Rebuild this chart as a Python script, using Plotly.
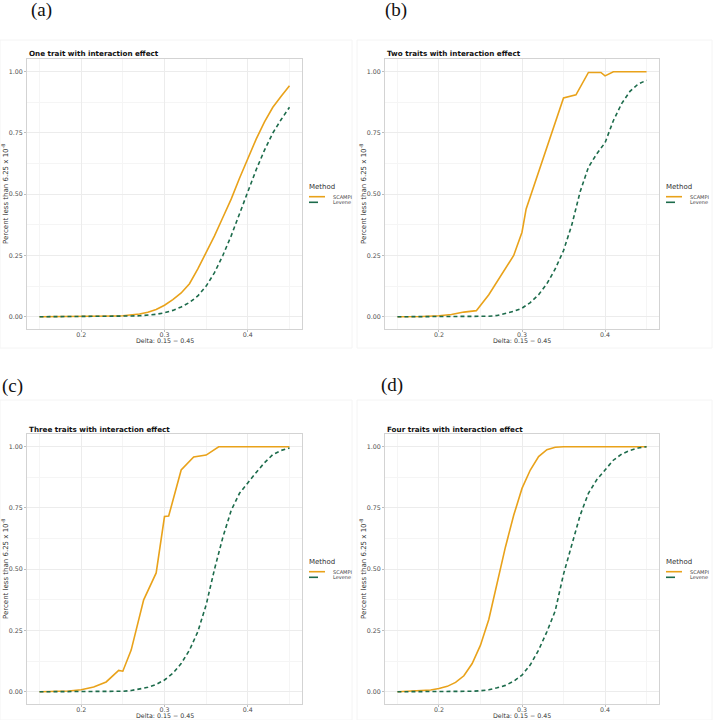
import plotly.graph_objects as go

# ---------------- data ----------------
delta_grid = [0.15, 0.16, 0.17, 0.18, 0.19, 0.20, 0.21, 0.22, 0.23, 0.24,
              0.25, 0.26, 0.27, 0.28, 0.29, 0.30, 0.31, 0.32, 0.33, 0.34,
              0.35, 0.36, 0.37, 0.38, 0.39, 0.40, 0.41, 0.42, 0.43, 0.44, 0.45]

a_scampi_x = delta_grid
a_scampi_y = [0, 0, 0, 0, 0, 0, 0.001, 0.001, 0.002, 0.003,
              0.004, 0.007, 0.011, 0.018, 0.03, 0.047, 0.07, 0.097, 0.135, 0.195,
              0.26, 0.33, 0.405, 0.48, 0.565, 0.645, 0.725, 0.795, 0.855, 0.9, 0.943]
a_levene_x = delta_grid
a_levene_y = [0, 0, 0, 0, 0, 0, 0, 0, 0, 0.001,
              0.002, 0.003, 0.004, 0.006, 0.01, 0.016, 0.026, 0.04, 0.058, 0.085,
              0.125, 0.18, 0.25, 0.33, 0.42, 0.51, 0.60, 0.68, 0.75, 0.805, 0.855]

b_scampi_x = [0.15, 0.165, 0.18, 0.2, 0.215, 0.23, 0.245, 0.26, 0.275, 0.29,
              0.3, 0.305, 0.35, 0.365, 0.38, 0.395, 0.4, 0.41, 0.45]
b_scampi_y = [0, 0, 0.001, 0.004, 0.009, 0.019, 0.025, 0.09, 0.17, 0.25,
              0.345, 0.44, 0.893, 0.906, 0.997, 0.997, 0.983, 1.0, 1.0]
b_levene_x = delta_grid
b_levene_y = [0, 0, 0, 0, 0, 0, 0, 0, 0, 0,
              0.001, 0.002, 0.005, 0.012, 0.022, 0.035, 0.058, 0.09, 0.135, 0.195,
              0.27, 0.375, 0.51, 0.61, 0.665, 0.71, 0.80, 0.87, 0.92, 0.95, 0.965]

c_scampi_x = [0.15, 0.17, 0.185, 0.2, 0.215, 0.23, 0.245, 0.25, 0.26, 0.275,
              0.29, 0.3, 0.305, 0.32, 0.335, 0.35, 0.365, 0.45]
c_scampi_y = [0, 0.001, 0.003, 0.008, 0.019, 0.04, 0.087, 0.084, 0.17, 0.375,
              0.485, 0.715, 0.717, 0.905, 0.958, 0.966, 1.0, 1.0]
c_levene_x = delta_grid
c_levene_y = [0, 0, 0, 0, 0, 0, 0, 0, 0, 0.001,
              0.002, 0.005, 0.01, 0.018, 0.03, 0.048, 0.075, 0.115, 0.17, 0.245,
              0.355, 0.5, 0.63, 0.74, 0.81, 0.855, 0.895, 0.935, 0.968, 0.985, 0.995]

d_scampi_x = delta_grid
d_scampi_y = [0, 0.001, 0.002, 0.004, 0.007, 0.013, 0.022, 0.038, 0.065, 0.115,
              0.19, 0.295, 0.44, 0.59, 0.72, 0.83, 0.905, 0.96, 0.988, 0.998,
              1.0, 1.0, 1.0, 1.0, 1.0, 1.0, 1.0, 1.0, 1.0, 1.0, 1.0]
d_levene_x = delta_grid
d_levene_y = [0, 0, 0, 0, 0, 0, 0, 0.001, 0.001, 0.002,
              0.004, 0.008, 0.016, 0.026, 0.043, 0.068, 0.11, 0.17, 0.245, 0.33,
              0.48, 0.6, 0.72, 0.81, 0.865, 0.905, 0.945, 0.97, 0.985, 0.995, 1.0]

panel_letters = ["(a)", "(b)", "(c)", "(d)"]
panel_titles = ["One trait with interaction effect",
                "Two traits with interaction effect",
                "Three traits with interaction effect",
                "Four traits with interaction effect"]
method_names = ["SCAMPI", "Levene"]
x_tick_vals = [0.2, 0.3, 0.4]
x_tick_text = ["0.2", "0.3", "0.4"]
y_tick_vals = [0.0, 0.25, 0.5, 0.75, 1.0]
y_tick_text = ["0.00", "0.25", "0.50", "0.75", "1.00"]
x_title = "Delta: 0.15 \u2212 0.45"
y_title = "Percent less than 6.25 x 10<sup>-8</sup>"

series = [
    (a_scampi_x, a_scampi_y, a_levene_x, a_levene_y),
    (b_scampi_x, b_scampi_y, b_levene_x, b_levene_y),
    (c_scampi_x, c_scampi_y, c_levene_x, c_levene_y),
    (d_scampi_x, d_scampi_y, d_levene_x, d_levene_y),
]

# ---------------- layout ----------------
W, H = 714, 720
ORANGE = "#E9A21A"
GREEN = "#1C6B4B"
FONT = "DejaVu Sans"

# plot-area boxes in pixels: (left, right, top, bottom)
boxes = [(27, 302, 59, 329), (385, 659, 59, 329),
         (27, 302, 434, 704), (385, 659, 434, 704)]
letter_pos = [(41, 10.5), (396, 10.5), (12, 386), (392, 385)]
xtitle_y = [340, 340, 715.5, 715.5]
outer_boxes = [(0, 352, 40, 348), (357, 712, 40, 348),
               (0, 352, 400, 720), (357, 712, 400, 720)]


def px(x):
    return x / W


def py(y):
    return 1 - y / H


fig = go.Figure()
annotations = []
shapes = []

for i, (sx, sy, lx, ly) in enumerate(series):
    k = "" if i == 0 else str(i + 1)
    xa, ya = "x" + k, "y" + k
    fig.add_trace(go.Scatter(x=sx, y=sy, mode="lines", name=method_names[0],
                             xaxis=xa, yaxis=ya, showlegend=False,
                             line=dict(color=ORANGE, width=1.6)))
    fig.add_trace(go.Scatter(x=lx, y=ly, mode="lines", name=method_names[1],
                             xaxis=xa, yaxis=ya, showlegend=False,
                             line=dict(color=GREEN, width=1.6, dash="4px,3px")))
    L, R, T, B = boxes[i]
    axis_common = dict(showline=True, mirror=True, linecolor="#d3d3d3", linewidth=1,
                       zeroline=False, ticks="outside", ticklen=2, tickcolor="#bdbdbd",
                       tickfont=dict(family=FONT, size=6.3, color="#4d4d4d"),
                       gridcolor="#ececec", gridwidth=0.6)
    fig.update_layout(**{
        "xaxis" + k: dict(domain=[px(L), px(R)], range=[0.135, 0.465],
                          tickvals=x_tick_vals, ticktext=x_tick_text,
                          anchor=ya, ticklabelstandoff=-3,
                          minor=dict(tickvals=[0.15, 0.25, 0.35, 0.45], showgrid=True,
                                     gridcolor="#f5f5f5", gridwidth=0.5, ticks=""),
                          **axis_common),
        "yaxis" + k: dict(domain=[py(B), py(T)], range=[-0.05, 1.052],
                          tickvals=y_tick_vals, ticktext=y_tick_text,
                          anchor=xa,
                          minor=dict(tickvals=[0.125, 0.375, 0.625, 0.875], showgrid=True,
                                     gridcolor="#f5f5f5", gridwidth=0.5, ticks=""),
                          **axis_common),
    })
    # panel letter
    annotations.append(dict(text=panel_letters[i], x=px(letter_pos[i][0]), y=py(letter_pos[i][1]),
                            xref="paper", yref="paper", showarrow=False,
                            xanchor="center", yanchor="middle",
                            font=dict(family="Liberation Serif", size=19, color="#111111")))
    # title
    annotations.append(dict(text="<b>" + panel_titles[i] + "</b>", x=px(L), y=py(T - 5),
                            xref="paper", yref="paper", showarrow=False,
                            xanchor="left", yanchor="middle",
                            font=dict(family=FONT, size=7.2, color="#111111")))
    # x title
    annotations.append(dict(text=x_title, x=px((L + R) / 2), y=py(xtitle_y[i]),
                            xref="paper", yref="paper", showarrow=False,
                            xanchor="center", yanchor="middle",
                            font=dict(family=FONT, size=6.3, color="#333333")))
    # y title
    annotations.append(dict(text=y_title, x=px(L - 22), y=py((T + B) / 2),
                            xref="paper", yref="paper", showarrow=False, textangle=-90,
                            xanchor="center", yanchor="middle",
                            font=dict(family=FONT, size=7, color="#333333")))
    # legend (manual, ggplot-like)
    cy = (T + B) / 2
    annotations.append(dict(text="Method", x=px(R + 5), y=py(cy - 7),
                            xref="paper", yref="paper", showarrow=False,
                            xanchor="left", yanchor="middle",
                            font=dict(family=FONT, size=7, color="#333333")))
    for j, (name, col, dash) in enumerate([(method_names[0], ORANGE, "solid"),
                                           (method_names[1], GREEN, "dash")]):
        yy = cy + 2.7 + j * 5.6
        shapes.append(dict(type="line", xref="paper", yref="paper",
                           x0=px(R + 7), x1=px(R + 23), y0=py(yy), y1=py(yy),
                           line=dict(color=col, width=1.6, dash=dash)))
        annotations.append(dict(text=name, x=px(R + 29), y=py(yy),
                                xref="paper", yref="paper", showarrow=False,
                                xanchor="left", yanchor="middle",
                                font=dict(family=FONT, size=5, color="#444444")))
    # faint outer frame of each sub-figure
    oL, oR, oT, oB = outer_boxes[i]
    shapes.append(dict(type="rect", xref="paper", yref="paper",
                       x0=px(oL), x1=px(oR), y0=py(oB), y1=py(oT),
                       line=dict(color="#f4f4f4", width=1), layer="below"))

fig.update_layout(width=W, height=H, margin=dict(l=0, r=0, t=0, b=0),
                  paper_bgcolor="white", plot_bgcolor="white",
                  annotations=annotations, shapes=shapes, showlegend=False)

fig.write_html("out.html", config={"displayModeBar": False},
               post_script="document.body.style.margin='0';document.body.style.padding='0';"
                           "document.body.style.overflow='hidden';")
